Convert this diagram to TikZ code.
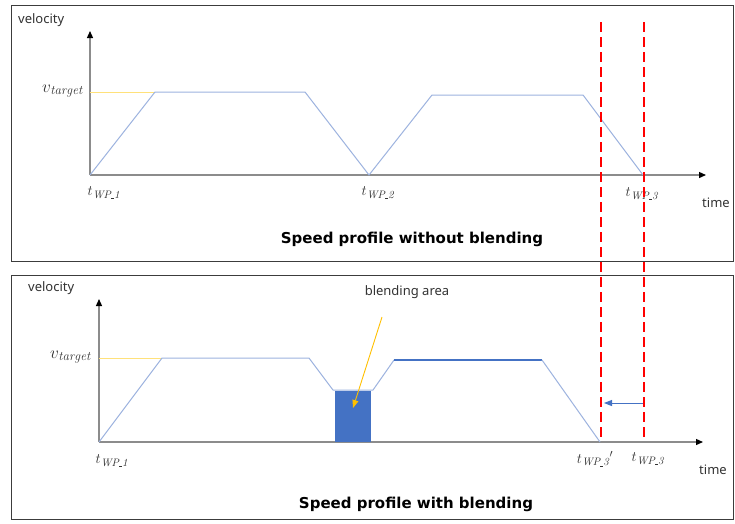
\documentclass[tikz,border=0pt]{standalone}
\usepackage{fontspec}
\setsansfont{Noto Sans}
\newfontfamily\ttlfont{DejaVu Sans}
\usetikzlibrary{arrows.meta}
\definecolor{lblue}{HTML}{9DB3DF}
\definecolor{dblue}{HTML}{4472C4}
\definecolor{lyel}{HTML}{FFE17A}
\definecolor{ayel}{HTML}{FFC000}
\definecolor{axgray}{HTML}{8C8C8C}
\definecolor{frm}{HTML}{3C3C3C}
\newcommand\usc{\rule[-0.6pt]{3.2pt}{0.6pt}}
\begin{document}
\begin{tikzpicture}[x=1pt,y=-1pt,
  frame/.style={draw=frm,line width=1pt},
  axis/.style={draw=axgray,line width=1.3pt,-{Triangle[length=7pt,width=6pt,color=black]}},
  prof/.style={draw=lblue,line width=1pt,line join=round},
  profd/.style={draw=dblue,line width=1.2pt,line join=round},
  tgt/.style={draw=lyel,line width=1pt},
  reddash/.style={draw=red,line width=2.6pt,dash pattern=on 10pt off 5pt},
  lbl/.style={font=\sffamily\fontsize{13}{15}\selectfont,text=black!80,inner sep=0pt},
  ttl/.style={font=\ttlfont\bfseries\fontsize{15}{17}\selectfont,inner sep=0pt},
  mth/.style={font=\fontsize{15.5}{17}\selectfont,text=black!80,inner sep=0pt},
  mthv/.style={font=\fontsize{18.5}{20}\selectfont,text=black!80,inner sep=0pt}]
\useasboundingbox (0,0) rectangle (735,523);
\fill[white] (0,0) rectangle (735,523);
% frames
\draw[frame] (11,5) rectangle (733,261);
\draw[frame] (11,275) rectangle (733,519);

% ---------- top panel ----------
\coordinate (o1) at (90,175);
\coordinate (ya1) at (90,31);
\coordinate (xa1) at (706,175);
\coordinate (tv1) at (90,92);
\coordinate (a1) at (155,92);
\coordinate (b1) at (305,92);
\coordinate (c1) at (369,175);
\coordinate (d1) at (432,95);
\coordinate (e1) at (583,95);
\coordinate (f1) at (643,175);
\draw[axis] (o1) -- (ya1);
\draw[axis] (o1) -- (xa1);
\draw[tgt] (tv1) -- (a1);
\draw[prof] (o1) -- (a1) -- (b1) -- (c1) -- (d1) -- (e1) -- (f1);
\node[lbl,anchor=west] (vel1) at (18,20) {velocity};
\node[mthv,anchor=east] (vt1) at (83,91) {$v_{\mathit{target}}$};
\node[mth] (tw11) at (104,193) {$t_{\mathit{WP}\usc\mathit{1}}$};
\node[mth] (tw12) at (378,193) {$t_{\mathit{WP}\usc\mathit{2}}$};
\node[mth] (tw13) at (642,194) {$t_{\mathit{WP}\usc\mathit{3}}$};
\node[lbl] (time1) at (716,203) {time};
\node[ttl] (title1) at (412,239) {Speed profile without blending};

% ---------- bottom panel ----------
\coordinate (o2) at (99,442);
\coordinate (ya2) at (99,299);
\coordinate (xa2) at (703,442);
\coordinate (tv2) at (99,358);
\coordinate (a2) at (162,358);
\coordinate (b2) at (309,358);
\coordinate (c2) at (333,390);
\coordinate (r1) at (335,391);
\coordinate (r2) at (371,442);
\coordinate (d2) at (373,390);
\coordinate (e2) at (394,360);
\coordinate (f2) at (542,360);
\coordinate (g2) at (600,442);
\draw[axis] (o2) -- (ya2);
\draw[axis] (o2) -- (xa2);
\draw[tgt] (tv2) -- (a2);
\draw[prof] (o2) -- (a2) -- (b2) -- (c2) -- (d2) -- (e2);
\draw[profd] (e2) -- (f2);
\draw[prof] (f2) -- (g2);
\fill[dblue] (r1) rectangle (r2);
\node[lbl] (blend) at (407,292) {blending area};
\coordinate (ba1) at (382,317);
\coordinate (ba2) at (353,408);
\draw[ayel,line width=0.9pt,-{Triangle[length=8pt,width=6pt]}] (ba1) -- (ba2);
\node[lbl,anchor=west] (vel2) at (28,288) {velocity};
\node[mthv,anchor=east] (vt2) at (91,357) {$v_{\mathit{target}}$};
\node[mth] (tw21) at (112,461) {$t_{\mathit{WP}\usc\mathit{1}}$};
\node[mth] (tw23p) at (595,459) {$t_{\mathit{WP}\usc\mathit{3}}{}'$};
\node[mth] (tw23) at (648,459) {$t_{\mathit{WP}\usc\mathit{3}}$};
\node[lbl] (time2) at (713,470) {time};
\node[ttl] (title2) at (416,504) {Speed profile with blending};

% ---------- red dashed lines and shift arrow ----------
\coordinate (rd1t) at (601,22);
\coordinate (rd1b) at (601,441);
\coordinate (rd2t) at (644,22);
\coordinate (rd2b) at (644,441);
\draw[reddash] (rd1t) -- (rd1b);
\draw[reddash] (rd2t) -- (rd2b);
\coordinate (sa1) at (643,403);
\coordinate (sa2) at (604,403);
\draw[dblue,line width=1pt,-{Triangle[length=8pt,width=6pt]}] (sa1) -- (sa2);
\end{tikzpicture}
\end{document}
